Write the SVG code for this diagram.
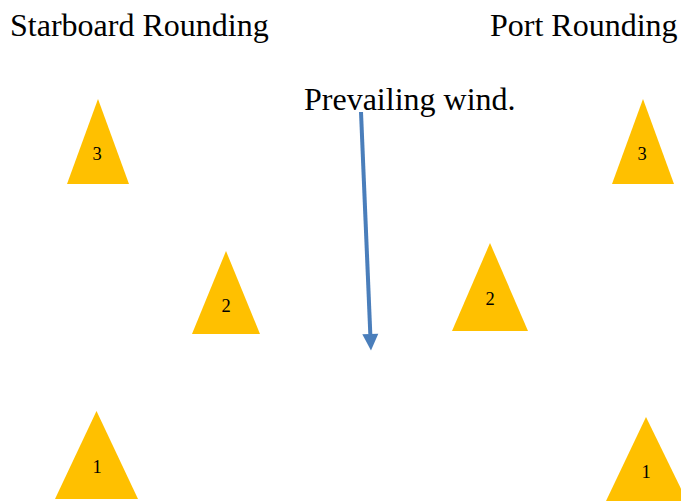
<svg xmlns="http://www.w3.org/2000/svg" width="681" height="501" viewBox="0 0 681 501">
<style>
.t{font-family:"Liberation Serif","Times New Roman",serif;fill:#000}
.h{font-size:32px}
.n{font-size:18.5px;text-anchor:middle}
.m{fill:#ffc000}
</style>
<defs><marker id="a" markerUnits="userSpaceOnUse" markerWidth="17" markerHeight="17" refX="0" refY="8" orient="auto" overflow="visible"><path d="M0 0L16.500 8L0 16Z" fill="#4a7ebb"/></marker></defs>
<rect width="681" height="501" fill="#fff"/>
<g id="titles">
<text class="t h" x="10" y="36">Starboard Rounding</text>
<text class="t h" x="490" y="36">Port Rounding</text>
<text class="t h" x="304" y="110">Prevailing wind.</text>
</g>
<g id="connectors"><line x1="361" y1="112" x2="370.300" y2="334" stroke="#4a7ebb" stroke-width="4" marker-end="url(#a)"/></g>
<g id="s3"><polygon class="m" points="98,99 129,184 67,184"/><text class="t n" x="97" y="160">3</text></g>
<g id="s2"><polygon class="m" points="226,251 260,334 192,334"/><text class="t n" x="226" y="312">2</text></g>
<g id="s1"><polygon class="m" points="96.500,411 138,499 55,499"/><text class="t n" x="97" y="473">1</text></g>
<g id="p3"><polygon class="m" points="643,99 674,184 612,184"/><text class="t n" x="642" y="160">3</text></g>
<g id="p2"><polygon class="m" points="490,243 528,331 452,331"/><text class="t n" x="490" y="305">2</text></g>
<g id="p1"><polygon class="m" points="646,417 687,501 606,501"/><text class="t n" x="646" y="478">1</text></g>
</svg>
